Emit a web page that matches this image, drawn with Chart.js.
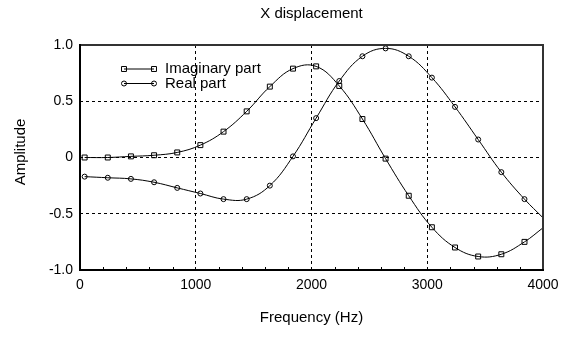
<!DOCTYPE html>
<html>
<head>
<meta charset="utf-8">
<script src="https://cdn.jsdelivr.net/npm/chart.js@4.4.1/dist/chart.umd.min.js"></script>
<style>
html,body{margin:0;padding:0;background:#fff;}
#wrap{width:568px;height:351px;}
</style>
</head>
<body>
<div id="wrap"><canvas id="c" width="568" height="351"></canvas></div>
<script>
const chartTitle = "X displacement";
const xTitle = "Frequency (Hz)";
const yTitle = "Amplitude";
const seriesNames = ["Imaginary part", "Real part"];
const frequency = [40,240,440,640,840,1040,1240,1440,1640,1840,2040,2240,2440,2640,2840,3040,3240,3440,3640,3840,4000];
const imaginaryPart = [0,0,0.01,0.02,0.045,0.11,0.23,0.41,0.63,0.79,0.81,0.636,0.342,-0.01,-0.34,-0.62,-0.80,-0.88,-0.86,-0.75,-0.625];
const realPart = [-0.17,-0.18,-0.19,-0.22,-0.27,-0.32,-0.37,-0.37,-0.25,0.01,0.35,0.68,0.90,0.97,0.90,0.71,0.45,0.16,-0.13,-0.37,-0.536];
const xTickValues = [0,1000,2000,3000,4000];
const yTickValues = [-1,-0.5,0,0.5,1];

const FONT = "'Liberation Sans', Arial, sans-serif";
const markerRadius = frequency.map((f,i) => i === frequency.length-1 ? 0 : 1);

function pts(ys){ return frequency.map((f,i)=>({x:f,y:ys[i]})); }

const framePlugin = {
  id:'frame',
  afterDraw(chart){
    const ctx = chart.ctx, a = chart.chartArea;
    const xs = chart.scales.x;
    ctx.save();
    // minor ticks on bottom axis
    ctx.strokeStyle = '#000'; ctx.lineWidth = 1;
    for (let v=200; v<4000; v+=200){
      if (v % 1000 === 0) continue;
      const px = Math.round(xs.getPixelForValue(v)) + 0.5;
      ctx.beginPath(); ctx.moveTo(px, a.bottom); ctx.lineTo(px, a.bottom-3); ctx.stroke();
    }
    // frame
    ctx.lineWidth = 2;
    ctx.strokeStyle = '#333';
    ctx.beginPath(); ctx.moveTo(a.left, a.top); ctx.lineTo(a.right, a.top); ctx.lineTo(a.right, a.bottom); ctx.stroke();
    ctx.strokeStyle = '#000';
    ctx.beginPath(); ctx.moveTo(a.left, a.top-1); ctx.lineTo(a.left, a.bottom); ctx.lineTo(a.right+1, a.bottom); ctx.stroke();
    // titles
    ctx.fillStyle = '#000';
    ctx.textAlign = 'center'; ctx.textBaseline = 'middle';
    ctx.font = '15px ' + FONT;
    ctx.fillText(chartTitle, (a.left+a.right)/2, 14);
    ctx.fillText(xTitle, (a.left+a.right)/2, 318);
    ctx.save();
    ctx.translate(21, 152);
    ctx.rotate(-Math.PI/2);
    ctx.fillText(yTitle, 0, 0);
    ctx.restore();
    // legend
    const rows = [{y:69, style:'rect', r:3.5}, {y:83.5, style:'circle', r:2.5}];
    rows.forEach((row, i) => {
      ctx.strokeStyle = '#000'; ctx.lineWidth = 1;
      ctx.beginPath(); ctx.moveTo(124, row.y); ctx.lineTo(154, row.y); ctx.stroke();
      [124,154].forEach(px => {
        ctx.fillStyle = 'rgba(0,0,0,0)';
        ctx.strokeStyle = '#000';
        Chart.helpers.drawPoint(ctx, {pointStyle: row.style, radius: row.r, borderWidth:1}, px, row.y);
      });
      ctx.fillStyle = '#000';
      ctx.textAlign = 'left'; ctx.textBaseline = 'middle';
      ctx.font = '15px ' + FONT;
      ctx.fillText(seriesNames[i], 165, row.y);
    });
    ctx.restore();
  }
};

new Chart(document.getElementById('c'), {
  type:'line',
  data:{
    datasets:[
      {label:seriesNames[0], data:pts(imaginaryPart), borderColor:'#000', borderWidth:1,
       backgroundColor:'rgba(0,0,0,0)', pointStyle:'rect', pointRadius:markerRadius.map(m=>m*3.5),
       pointBorderColor:'#000', pointBackgroundColor:'rgba(255,255,255,0)', pointBorderWidth:1, tension:0.4},
      {label:seriesNames[1], data:pts(realPart), borderColor:'#000', borderWidth:1,
       backgroundColor:'rgba(0,0,0,0)', pointStyle:'circle', pointRadius:markerRadius.map(m=>m*2.5),
       pointBorderColor:'#000', pointBackgroundColor:'rgba(255,255,255,0)', pointBorderWidth:1, tension:0.4}
    ]
  },
  options:{
    responsive:false, animation:false, devicePixelRatio:1,
    layout:{padding:{left:0, top:45, right:25, bottom:0}},
    plugins:{legend:{display:false}, title:{display:false}, tooltip:{enabled:false}},
    scales:{
      x:{type:'linear', min:0, max:4000,
         afterFit(s){ s.height = 81; },
         afterBuildTicks(s){ s.ticks = xTickValues.map(v=>({value:v})); },
         ticks:{color:'#000', font:{family:FONT, size:14}, padding:7, maxRotation:0, autoSkip:false,
                callback:(v)=> String(v)},
         grid:{drawTicks:false, color:(c)=> (c.tick && c.tick.value>0 && c.tick.value<4000) ? '#000' : 'rgba(0,0,0,0)', lineWidth:1},
         border:{display:false, dash:[3,3]}},
      y:{type:'linear', min:-1, max:1,
         afterFit(s){ s.width = 80; },
         afterBuildTicks(s){ s.ticks = yTickValues.map(v=>({value:v})); },
         ticks:{color:'#000', font:{family:FONT, size:14}, padding:7,
                callback:(v)=> v===0 ? '0' : v.toFixed(1)},
         grid:{drawTicks:false, color:(c)=> (c.tick && Math.abs(c.tick.value)<0.99) ? '#000' : 'rgba(0,0,0,0)', lineWidth:1},
         border:{display:false, dash:[3,3]}}
    }
  },
  plugins:[framePlugin]
});
</script>
</body>
</html>
